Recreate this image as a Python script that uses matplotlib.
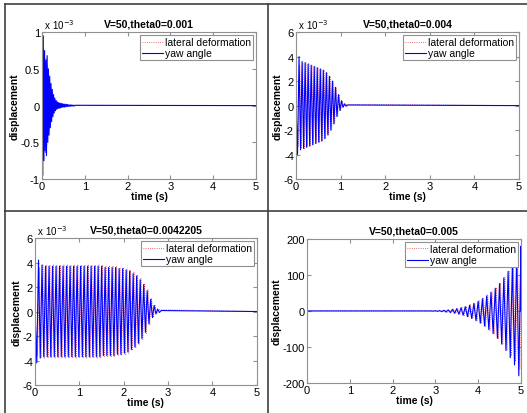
import numpy as np
import matplotlib
matplotlib.use("Agg")
import matplotlib.pyplot as plt
from matplotlib.lines import Line2D

plt.rcParams['font.family'] = ['Liberation Sans', 'DejaVu Sans']

# ====================================================================
# Data: peak amplitude of each oscillation cycle
# (first half-cycle negative, second positive), start time, period
# ====================================================================

TITLES = ['V=50,theta0=0.001', 'V=50,theta0=0.004',
          'V=50,theta0=0.0042205', 'V=50,theta0=0.005']

# panel 1 (x 1e-3)
P1_START, P1_PERIOD = 0.0, 0.03
P1_YAW = [0.95, 0.75, 0.62, 0.68, 0.5, 0.4, 0.3, 0.22, 0.15, 0.1, 0.07,
          0.05, 0.04, 0.035, 0.03, 0.025, 0.02, 0.02, 0.015, 0.015, 0.01,
          0.01, 0.008, 0.006, 0.005, 0.004]
P1_LAT = [0.7, 0.6, 0.65, 0.55, 0.42, 0.32, 0.24, 0.17, 0.12, 0.08, 0.06,
          0.04, 0.03, 0.025, 0.02, 0.015, 0.01, 0.008, 0.005]

# panel 2 (x 1e-3)
P2_START, P2_PERIOD = 0.0, 0.068
P2_YAW = [4.0, 3.6, 3.5, 3.4, 3.3, 3.2, 3.1, 3.0, 2.9, 2.7, 2.4, 2.0, 1.5,
          0.9, 0.4, 0.15, 0.05]
P2_LAT = [3.3, 3.5, 3.5, 3.4, 3.3, 3.2, 3.1, 3.0, 2.9, 2.7, 2.4, 2.0, 1.5,
          0.9, 0.4, 0.1]

# panel 3 (x 1e-3)
P3_START, P3_PERIOD = 0.0, 0.079
P3_YAW = [4.2, 3.8, 3.7, 3.7, 3.7, 3.7, 3.7, 3.7, 3.7, 3.7, 3.7, 3.7, 3.7,
          3.7, 3.7, 3.7, 3.7, 3.7, 3.7, 3.6, 3.6, 3.6, 3.6, 3.5, 3.5, 3.4,
          3.3, 3.1, 2.9, 2.6, 2.2, 1.7, 1.0, 0.5, 0.2, 0.08]
P3_LAT = [3.6, 3.8, 3.8, 3.8, 3.8, 3.8, 3.8, 3.8, 3.8, 3.8, 3.8, 3.8, 3.8,
          3.8, 3.8, 3.8, 3.8, 3.8, 3.8, 3.7, 3.7, 3.7, 3.7, 3.6, 3.6, 3.5,
          3.4, 3.2, 3.0, 2.7, 2.3, 1.8, 1.1, 0.5, 0.15]

# panel 4 (flat until ~2.9 s, then growing)
P4_START, P4_PERIOD = 2.9, 0.1
P4_YAW = [0.5, 1, 2, 3, 4.5, 6.5, 9, 12, 16, 21, 27, 34, 42, 52, 63, 76,
          92, 110, 130, 150, 180]
P4_LAT = [0.5, 1, 2, 3.5, 5, 7, 10, 13, 17, 22, 28, 35, 44, 54, 65, 78,
          94, 110, 125, 140, 160]

PANELS = [
    (P1_START, P1_PERIOD, P1_YAW, P1_LAT, [-1, -0.5, 0, 0.5, 1], ['-1', '-0.5', '0', '0.5', '1'], True),
    (P2_START, P2_PERIOD, P2_YAW, P2_LAT, [-6, -4, -2, 0, 2, 4, 6], ['-6', '-4', '-2', '0', '2', '4', '6'], True),
    (P3_START, P3_PERIOD, P3_YAW, P3_LAT, [-6, -4, -2, 0, 2, 4, 6], ['-6', '-4', '-2', '0', '2', '4', '6'], True),
    (P4_START, P4_PERIOD, P4_YAW, P4_LAT, [-200, -100, 0, 100, 200], ['-200', '-100', '0', '100', '200'], False),
]

# axes positions in figure fractions (left, bottom, width, height)
POSITIONS = [
    (0.0797, 0.565, 0.406, 0.355),
    (0.5617, 0.565, 0.423, 0.355),
    (0.0664, 0.0676, 0.421, 0.355),
    (0.5825, 0.0725, 0.406, 0.348),
]

LAT_STYLE = dict(ls=':', color='#e04040', lw=0.6)
YAW_STYLE = dict(ls='-', color='blue', lw=0.8)


def zigzag(start, period, amps, shift=0.0):
    # vertices at every half period, alternating sign, flat before and after
    n = len(amps)
    t = start + shift + np.arange(1, 2 * n + 1) * period / 2
    y = np.empty(2 * n)
    y[0::2] = -np.asarray(amps, float)
    y[1::2] = np.asarray(amps, float)
    t = np.concatenate(([0.0, start], t, [5.0]))
    y = np.concatenate(([0.0, 0.0], y, [0.0]))
    return t, y


fig = plt.figure(figsize=(5.27, 4.14), dpi=100)

for i, (start, period, yaw, lat, yt, ytl, sci) in enumerate(PANELS):
    ax = fig.add_axes(POSITIONS[i])
    tl, yl = zigzag(start, period, lat, shift=period / 4)
    ty, yy = zigzag(start, period, yaw)
    ax.plot(tl, yl, **LAT_STYLE)
    ax.plot(ty, yy, **YAW_STYLE)

    ax.set_xlim(0, 5)
    ax.set_ylim(yt[0], yt[-1])
    ax.set_xticks([0, 1, 2, 3, 4, 5])
    ax.set_yticks(yt)
    ax.set_yticklabels(ytl)
    ax.tick_params(direction='in', top=True, right=True, length=3,
                   labelsize=8, color='#909090', pad=1.5)
    for s in ax.spines.values():
        s.set_color('#909090')
        s.set_linewidth(0.8)

    ax.set_title(TITLES[i], fontsize=7.5, fontweight='bold', pad=4)
    ax.set_xlabel('time (s)', fontsize=7.5, fontweight='bold', labelpad=0)
    ax.set_ylabel('displacement', fontsize=7.5, fontweight='bold', labelpad=1)
    if sci:
        ax.text(0.0, 1.005, ' x 10$^{-3}$', transform=ax.transAxes,
                fontsize=7, va='bottom', ha='left')

    handles = [Line2D([], [], **LAT_STYLE), Line2D([], [], **YAW_STYLE)]
    leg = ax.legend(handles, ['lateral deformation', 'yaw angle'],
                    loc='upper right', fontsize=7.5, fancybox=False,
                    framealpha=1, edgecolor='#909090', handlelength=2.0,
                    handletextpad=0.2, borderpad=0.2, labelspacing=0.1,
                    borderaxespad=0.3)
    leg.get_frame().set_linewidth(0.8)

# table-like frame around the four panels
line_kw = dict(color='#404040', lw=1.2, transform=fig.transFigure)
x0 = 5 / 527
ytop = 1 - 5 / 414
fig.add_artist(Line2D([x0, 1], [ytop, ytop], **line_kw))
fig.add_artist(Line2D([x0, x0], [0, ytop], **line_kw))
fig.add_artist(Line2D([x0, 1], [1 - 212 / 414, 1 - 212 / 414], **line_kw))
fig.add_artist(Line2D([268 / 527, 268 / 527], [0, ytop], **line_kw))

fig.savefig('out.png', dpi=100)
